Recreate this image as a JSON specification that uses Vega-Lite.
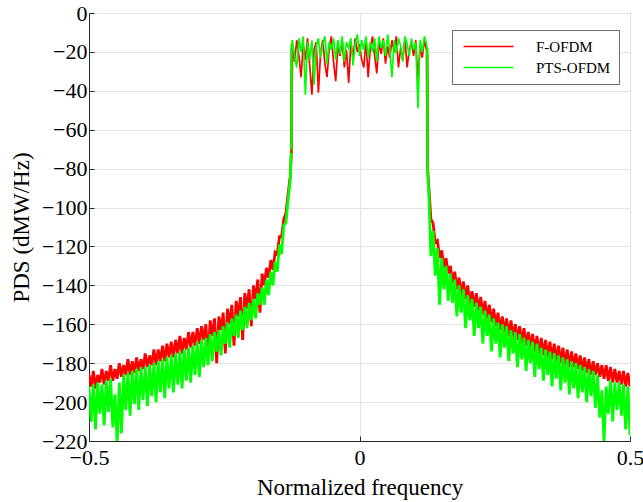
{
"$schema":"https://vega.github.io/schema/vega-lite/v6.json",
"width":541,"height":428,
"autosize":"none",
"padding":{"left":89,"top":13,"right":13,"bottom":61},
"background":"white",
"config":{
 "view":{"stroke":"#262626","strokeWidth":1},
 "axis":{"labelFont":"Liberation Serif","titleFont":"Liberation Serif","labelFontSize":22,"titleFontSize":23,"titleFontWeight":"normal","labelColor":"#000","titleColor":"#000","gridColor":"#e3e3e3","domainColor":"#262626","tickColor":"#262626","tickSize":-5},
 "legend":{"labelFont":"Liberation Serif","labelFontSize":15,"labelColor":"#000"}
},
"data":{"values":[
{"f":-0.5,"a":-186,"b":-192},{"f":-0.496,"a":-192,"b":-210},{"f":-0.492,"a":-184,"b":-191},{"f":-0.488,"a":-193,"b":-214},{"f":-0.484,"a":-186,"b":-190},{"f":-0.48,"a":-190,"b":-206},{"f":-0.476,"a":-183,"b":-191},{"f":-0.472,"a":-191,"b":-212},{"f":-0.468,"a":-184,"b":-189},{"f":-0.464,"a":-189,"b":-205},
{"f":-0.46,"a":-181,"b":-188},{"f":-0.456,"a":-189,"b":-213},{"f":-0.452,"a":-183,"b":-196},{"f":-0.448,"a":-188,"b":-221},{"f":-0.444,"a":-180,"b":-190},{"f":-0.44,"a":-187,"b":-216},{"f":-0.436,"a":-181,"b":-186},{"f":-0.432,"a":-186,"b":-204},{"f":-0.428,"a":-178,"b":-185},{"f":-0.424,"a":-186,"b":-207},
{"f":-0.42,"a":-179,"b":-184},{"f":-0.416,"a":-185,"b":-201},{"f":-0.412,"a":-177,"b":-183},{"f":-0.408,"a":-184,"b":-204},{"f":-0.404,"a":-178,"b":-182},{"f":-0.4,"a":-183,"b":-199},{"f":-0.396,"a":-175,"b":-182},{"f":-0.392,"a":-182,"b":-202},{"f":-0.388,"a":-176,"b":-181},{"f":-0.384,"a":-181,"b":-197},
{"f":-0.38,"a":-173,"b":-180},{"f":-0.376,"a":-181,"b":-200},{"f":-0.372,"a":-173,"b":-179},{"f":-0.368,"a":-179,"b":-195},{"f":-0.364,"a":-171,"b":-178},{"f":-0.36,"a":-179,"b":-198},{"f":-0.356,"a":-170,"b":-177},{"f":-0.352,"a":-177,"b":-193},{"f":-0.348,"a":-169,"b":-176},{"f":-0.344,"a":-177,"b":-195},
{"f":-0.34,"a":-168,"b":-175},{"f":-0.336,"a":-175,"b":-191},{"f":-0.332,"a":-166,"b":-174},{"f":-0.328,"a":-175,"b":-193},{"f":-0.324,"a":-167,"b":-173},{"f":-0.32,"a":-173,"b":-189},{"f":-0.316,"a":-164,"b":-172},{"f":-0.312,"a":-172,"b":-190},{"f":-0.308,"a":-164,"b":-171},{"f":-0.304,"a":-171,"b":-186},
{"f":-0.3,"a":-162,"b":-169},{"f":-0.296,"a":-170,"b":-187},{"f":-0.292,"a":-161,"b":-168},{"f":-0.288,"a":-168,"b":-182},{"f":-0.284,"a":-160,"b":-167},{"f":-0.28,"a":-178,"b":-181},{"f":-0.276,"a":-158,"b":-165},{"f":-0.272,"a":-166,"b":-179},{"f":-0.268,"a":-157,"b":-164},{"f":-0.264,"a":-180,"b":-174},
{"f":-0.26,"a":-156,"b":-163},{"f":-0.256,"a":-163,"b":-176},{"f":-0.252,"a":-154,"b":-161},{"f":-0.248,"a":-175,"b":-170},{"f":-0.244,"a":-152,"b":-159},{"f":-0.24,"a":-160,"b":-172},{"f":-0.236,"a":-150,"b":-157},{"f":-0.232,"a":-171,"b":-166},{"f":-0.228,"a":-148,"b":-155},{"f":-0.224,"a":-156,"b":-167},
{"f":-0.22,"a":-146,"b":-153},{"f":-0.216,"a":-168,"b":-163},{"f":-0.212,"a":-144,"b":-151},{"f":-0.208,"a":-152,"b":-162},{"f":-0.204,"a":-142,"b":-149},{"f":-0.2,"a":-161,"b":-158},{"f":-0.196,"a":-140,"b":-147},{"f":-0.192,"a":-147,"b":-157},{"f":-0.188,"a":-137,"b":-144},{"f":-0.184,"a":-154,"b":-150},
{"f":-0.18,"a":-134,"b":-141},{"f":-0.176,"a":-140,"b":-150},{"f":-0.172,"a":-131,"b":-137},{"f":-0.168,"a":-136,"b":-145},{"f":-0.164,"a":-127,"b":-133},{"f":-0.16,"a":-132,"b":-140},{"f":-0.156,"a":-123,"b":-128},{"f":-0.152,"a":-124,"b":-133},{"f":-0.148,"a":-115,"b":-119},{"f":-0.144,"a":-115,"b":-124},
{"f":-0.14,"a":-106,"b":-109},{"f":-0.136,"a":-103,"b":-108},{"f":-0.132,"a":-93,"b":-96},{"f":-0.128,"a":-84,"b":-86},{"f":-0.126,"a":-72,"b":-70},{"f":-0.125,"a":-18,"b":-16},
{"f":-0.124,"a":-18,"b":-14},{"f":-0.12,"a":-25,"b":-22},{"f":-0.116,"a":-14,"b":-28},{"f":-0.112,"a":-22,"b":-13},{"f":-0.108,"a":-33,"b":-20},{"f":-0.104,"a":-16,"b":-12},{"f":-0.1,"a":-24,"b":-42},{"f":-0.096,"a":-13,"b":-15},{"f":-0.092,"a":-27,"b":-24},{"f":-0.088,"a":-42,"b":-14},
{"f":-0.084,"a":-19,"b":-37},{"f":-0.08,"a":-15,"b":-17},{"f":-0.076,"a":-41,"b":-13},{"f":-0.072,"a":-21,"b":-23},{"f":-0.068,"a":-14,"b":-16},{"f":-0.064,"a":-26,"b":-12},{"f":-0.06,"a":-33,"b":-26},{"f":-0.056,"a":-18,"b":-15},{"f":-0.052,"a":-12,"b":-19},{"f":-0.048,"a":-25,"b":-13},
{"f":-0.044,"a":-35,"b":-24},{"f":-0.04,"a":-17,"b":-14},{"f":-0.036,"a":-22,"b":-21},{"f":-0.032,"a":-14,"b":-12},{"f":-0.028,"a":-28,"b":-25},{"f":-0.024,"a":-19,"b":-15},{"f":-0.02,"a":-36,"b":-18},{"f":-0.016,"a":-15,"b":-13},{"f":-0.012,"a":-23,"b":-27},{"f":-0.008,"a":-13,"b":-16},
{"f":-0.004,"a":-20,"b":-11},{"f":0,"a":-16,"b":-22},{"f":0.004,"a":-24,"b":-14},{"f":0.008,"a":-28,"b":-19},{"f":0.012,"a":-14,"b":-12},{"f":0.016,"a":-33,"b":-23},{"f":0.02,"a":-18,"b":-15},{"f":0.024,"a":-12,"b":-20},{"f":0.028,"a":-22,"b":-13},{"f":0.032,"a":-31,"b":-25},
{"f":0.036,"a":-15,"b":-12},{"f":0.04,"a":-21,"b":-18},{"f":0.044,"a":-13,"b":-14},{"f":0.048,"a":-26,"b":-22},{"f":0.052,"a":-17,"b":-11},{"f":0.056,"a":-23,"b":-19},{"f":0.06,"a":-14,"b":-33},{"f":0.064,"a":-20,"b":-14},{"f":0.068,"a":-12,"b":-21},{"f":0.072,"a":-28,"b":-13},
{"f":0.076,"a":-18,"b":-17},{"f":0.08,"a":-24,"b":-25},{"f":0.084,"a":-13,"b":-12},{"f":0.088,"a":-28,"b":-16},{"f":0.092,"a":-19,"b":-22},{"f":0.096,"a":-15,"b":-13},{"f":0.1,"a":-22,"b":-19},{"f":0.104,"a":-14,"b":-15},{"f":0.108,"a":-35,"b":-49},{"f":0.112,"a":-17,"b":-14},
{"f":0.116,"a":-23,"b":-20},{"f":0.12,"a":-14,"b":-12},{"f":0.124,"a":-19,"b":-16},{"f":0.125,"a":-21,"b":-18},{"f":0.126,"a":-80,"b":-82},
{"f":0.128,"a":-89,"b":-92},{"f":0.132,"a":-106,"b":-125},{"f":0.136,"a":-108,"b":-112},{"f":0.14,"a":-118,"b":-135},{"f":0.144,"a":-117,"b":-121},{"f":0.148,"a":-126,"b":-150},{"f":0.152,"a":-122,"b":-126},{"f":0.156,"a":-131,"b":-142},{"f":0.16,"a":-126,"b":-130},{"f":0.164,"a":-134,"b":-148},
{"f":0.168,"a":-130,"b":-134},{"f":0.172,"a":-139,"b":-149},{"f":0.176,"a":-133,"b":-137},{"f":0.18,"a":-142,"b":-156},{"f":0.184,"a":-136,"b":-140},{"f":0.188,"a":-145,"b":-154},{"f":0.192,"a":-138,"b":-142},{"f":0.196,"a":-147,"b":-162},{"f":0.2,"a":-140,"b":-145},{"f":0.204,"a":-150,"b":-158},
{"f":0.208,"a":-143,"b":-147},{"f":0.212,"a":-151,"b":-166},{"f":0.216,"a":-144,"b":-149},{"f":0.22,"a":-153,"b":-162},{"f":0.224,"a":-146,"b":-151},{"f":0.228,"a":-155,"b":-170},{"f":0.232,"a":-148,"b":-153},{"f":0.236,"a":-157,"b":-166},{"f":0.24,"a":-150,"b":-155},{"f":0.244,"a":-159,"b":-174},
{"f":0.248,"a":-152,"b":-157},{"f":0.252,"a":-161,"b":-170},{"f":0.256,"a":-154,"b":-159},{"f":0.26,"a":-163,"b":-177},{"f":0.264,"a":-156,"b":-160},{"f":0.268,"a":-164,"b":-172},{"f":0.272,"a":-157,"b":-161},{"f":0.276,"a":-166,"b":-179},{"f":0.28,"a":-158,"b":-163},{"f":0.284,"a":-167,"b":-175},
{"f":0.288,"a":-160,"b":-164},{"f":0.292,"a":-168,"b":-182},{"f":0.296,"a":-161,"b":-165},{"f":0.3,"a":-170,"b":-178},{"f":0.304,"a":-162,"b":-167},{"f":0.308,"a":-171,"b":-184},{"f":0.312,"a":-164,"b":-168},{"f":0.316,"a":-172,"b":-180},{"f":0.32,"a":-165,"b":-169},{"f":0.324,"a":-174,"b":-187},
{"f":0.328,"a":-166,"b":-170},{"f":0.332,"a":-175,"b":-183},{"f":0.336,"a":-167,"b":-172},{"f":0.34,"a":-176,"b":-189},{"f":0.344,"a":-168,"b":-173},{"f":0.348,"a":-177,"b":-186},{"f":0.352,"a":-169,"b":-174},{"f":0.356,"a":-178,"b":-192},{"f":0.36,"a":-170,"b":-175},{"f":0.364,"a":-179,"b":-188},
{"f":0.368,"a":-171,"b":-176},{"f":0.372,"a":-180,"b":-194},{"f":0.376,"a":-172,"b":-177},{"f":0.38,"a":-181,"b":-190},{"f":0.384,"a":-173,"b":-178},{"f":0.388,"a":-182,"b":-196},{"f":0.392,"a":-174,"b":-179},{"f":0.396,"a":-182,"b":-193},{"f":0.4,"a":-175,"b":-180},{"f":0.404,"a":-183,"b":-198},
{"f":0.408,"a":-176,"b":-181},{"f":0.412,"a":-184,"b":-195},{"f":0.416,"a":-177,"b":-182},{"f":0.42,"a":-185,"b":-200},{"f":0.424,"a":-178,"b":-183},{"f":0.428,"a":-186,"b":-197},{"f":0.432,"a":-179,"b":-184},{"f":0.436,"a":-186,"b":-203},{"f":0.44,"a":-180,"b":-186},{"f":0.444,"a":-187,"b":-208},
{"f":0.448,"a":-181,"b":-194},{"f":0.452,"a":-188,"b":-220},{"f":0.456,"a":-181,"b":-192},{"f":0.46,"a":-189,"b":-206},{"f":0.464,"a":-182,"b":-189},{"f":0.468,"a":-190,"b":-210},{"f":0.472,"a":-183,"b":-190},{"f":0.476,"a":-190,"b":-204},{"f":0.48,"a":-184,"b":-190},{"f":0.484,"a":-191,"b":-207},
{"f":0.488,"a":-184,"b":-191},{"f":0.492,"a":-192,"b":-214},{"f":0.496,"a":-185,"b":-192},{"f":0.5,"a":-192,"b":-217}
]},
"transform":[{"fold":["a","b"],"as":["s","v"]}],
"encoding":{
 "x":{"field":"f","type":"quantitative","scale":{"domain":[-0.5,0.5],"nice":false,"zero":false},
  "axis":{"values":[-0.5,0,0.5],"format":"~g","title":"Normalized frequency","grid":true,"labelPadding":11,"titlePadding":8,"labelFlush":false}},
 "y":{"field":"v","type":"quantitative","scale":{"domain":[-220,0],"nice":false,"zero":false},
  "axis":{"values":[-220,-200,-180,-160,-140,-120,-100,-80,-60,-40,-20,0],"title":"PDS (dMW/Hz)","grid":true,"labelPadding":7,"titlePadding":8}},
 "color":{"field":"s","type":"nominal","scale":{"domain":["a","b"],"range":["#ff0000","#00ff00"]},
  "legend":{"title":null,"orient":"none","legendX":363,"legendY":17,"symbolType":"M-3.33,0H3.33","symbolSize":225,"symbolStrokeWidth":1.5,"symbolOffset":20,"labelExpr":"datum.label == 'a' ? 'F-OFDM' : 'PTS-OFDM'","strokeColor":"#6e6e6e","fillColor":"white","padding":8,"rowPadding":4,"labelOffset":39}}
},
"layer":[
 {"transform":[{"filter":"datum.f <= -0.125"}],"mark":{"type":"line","strokeWidth":2.8,"clip":true}},
 {"transform":[{"filter":"datum.f >= 0.125"}],"mark":{"type":"line","strokeWidth":2.8,"clip":true}},
 {"transform":[{"filter":"datum.f >= -0.126 && datum.f <= 0.126"}],"mark":{"type":"line","strokeWidth":1.7,"clip":true}}
]
}
